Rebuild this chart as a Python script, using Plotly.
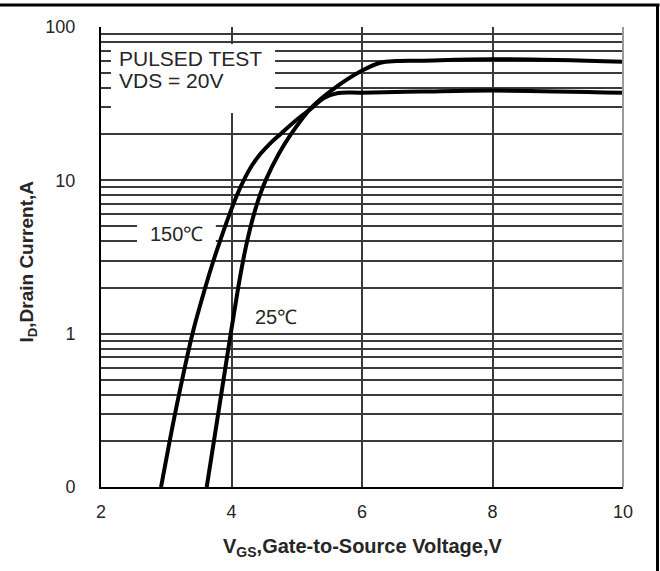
import math
import plotly.graph_objects as go

# data
vgs_150 = [2.920, 3.053, 3.195, 3.402, 3.598, 3.724, 3.822, 3.969, 4.083, 4.187, 4.313, 4.451,
           4.598, 4.749, 5.008, 5.246, 5.410, 5.617, 6.0, 6.9, 8.0, 10.0]
id_150 = [0.1, 0.2, 0.4, 1.0, 2.0, 3.0, 4.0, 6.0, 8.0, 10, 12.5, 15,
          17.5, 20, 25, 30, 34.3, 37.0, 37.3, 37.9, 38.5, 37.3]

vgs_25 = [3.620, 3.731, 3.842, 3.988, 4.103, 4.178, 4.239, 4.343, 4.435, 4.523, 4.730, 4.912,
          5.231, 5.540, 5.988, 6.28, 6.53, 6.89, 8.0, 10.0]
id_25 = [0.1, 0.2, 0.4, 1.0, 2.0, 3.0, 4.0, 6.0, 8.0, 10, 15, 20,
         30, 38.8, 51.6, 58.5, 60.0, 60.3, 61.6, 59.4]

x_ticks = [2, 4, 6, 8, 10]
y_ticks = [0.1, 1, 10, 100]
y_ticktext = ["0", "1", "10", "100"]
y_minor = [m * d for d in (0.1, 1, 10) for m in range(2, 10)]

FONT = "Liberation Sans, Arial, sans-serif"
GRID = "#3a3a3a"
TXT = "#262626"

fig = go.Figure()
for vx, iy in ((vgs_150, id_150), (vgs_25, id_25)):
    fig.add_trace(go.Scatter(
        x=vx, y=iy, mode="lines",
        line=dict(color="black", width=4, shape="spline", smoothing=1.0),
        showlegend=False, hoverinfo="skip",
    ))

fig.update_layout(
    width=660, height=571,
    margin=dict(l=101, r=37, t=27, b=84),
    paper_bgcolor="white", plot_bgcolor="white",
    font=dict(family=FONT, color=TXT, size=18),
)

fig.update_xaxes(
    range=[2, 10], tickvals=x_ticks,
    showgrid=True, gridcolor=GRID, gridwidth=1.6,
    showline=True, linecolor="black", linewidth=2,
    ticks="", ticklabelstandoff=7, zeroline=False,
)
fig.update_yaxes(
    type="log", range=[-1, 2],
    tickvals=y_ticks, ticktext=y_ticktext,
    showgrid=True, gridcolor=GRID, gridwidth=1.6,
    minor=dict(tickvals=y_minor, showgrid=True, gridcolor=GRID, gridwidth=1.6),
    showline=True, linecolor="black", linewidth=2,
    ticks="", ticklabelstandoff=20, zeroline=False,
)

# white boxes behind the labels (between grid and curves)
fig.add_shape(type="rect", xref="x", yref="y", x0=2.153, x1=4.667, y0=27.5, y1=77.4,
              fillcolor="white", line_width=0, layer="between")
fig.add_shape(type="rect", xref="x", yref="y", x0=2.552, x1=3.76, y0=3.51, y1=5.68,
              fillcolor="white", line_width=0, layer="between")

# plot right edge (grey) and outer frame lines
fig.add_shape(type="line", xref="paper", yref="paper", x0=1, x1=1, y0=0, y1=1,
              line=dict(color="#9a9a9a", width=2), layer="above")
fig.add_shape(type="line", xref="paper", yref="paper", x0=-0.2, x1=1.07, y0=1.0478, y1=1.0478,
              line=dict(color="black", width=3), layer="above")
fig.add_shape(type="line", xref="paper", yref="paper", x0=1.0661, x1=1.0661, y0=1.0478, y1=-0.2,
              line=dict(color="black", width=3), layer="above")

# in-plot labels (annotation y on a log axis is given as log10)
fig.add_annotation(x=2.245, y=math.log10(62.1), xref="x", yref="y", text="PULSED TEST",
                   showarrow=False, xanchor="left", yanchor="middle",
                   font=dict(size=21, color=TXT))
fig.add_annotation(x=2.245, y=math.log10(45.1), xref="x", yref="y", text="VDS = 20V",
                   showarrow=False, xanchor="left", yanchor="middle",
                   font=dict(size=21, color=TXT))
fig.add_annotation(x=3.157, y=math.log10(4.47), xref="x", yref="y", text="150℃",
                   showarrow=False, xanchor="center", yanchor="middle",
                   font=dict(size=20, color=TXT))
fig.add_annotation(x=4.682, y=math.log10(1.285), xref="x", yref="y", text="25℃",
                   showarrow=False, xanchor="center", yanchor="middle",
                   font=dict(size=20, color=TXT))

# axis titles
fig.add_annotation(x=0.5, y=-0.1326, xref="paper", yref="paper",
                   text="<b>V<sub>GS</sub>,Gate-to-Source Voltage,V</b>",
                   showarrow=False, xanchor="center", yanchor="middle",
                   font=dict(size=20, color=TXT))
fig.add_annotation(x=-0.1398, y=0.49, xref="paper", yref="paper",
                   text="<b>I<sub>D</sub>,Drain Current,A</b>", textangle=-90,
                   showarrow=False, xanchor="center", yanchor="middle",
                   font=dict(size=19, color=TXT))

fig.write_html("out.html", config={"displayModeBar": False},
               post_script="document.body.style.margin='0';")
